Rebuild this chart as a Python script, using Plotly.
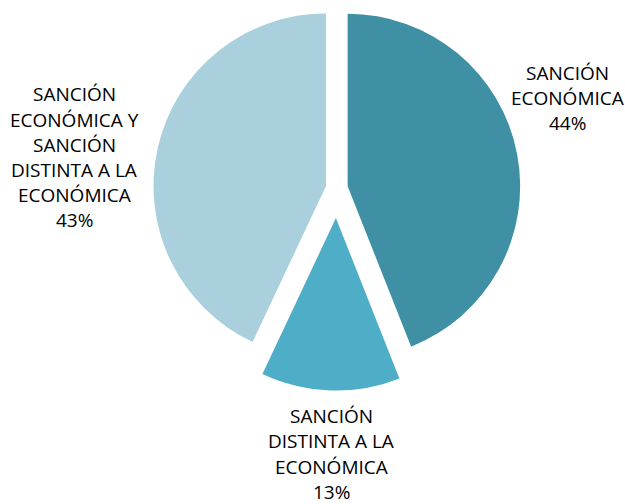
import plotly.graph_objects as go

# ---- data ----
CATEGORIES = [
    "SANCIÓN ECONÓMICA",
    "SANCIÓN DISTINTA A LA ECONÓMICA",
    "SANCIÓN ECONÓMICA Y SANCIÓN DISTINTA A LA ECONÓMICA",
]
VALUES = [44, 13, 43]
LABEL_LINES = [
    ["SANCIÓN", "ECONÓMICA"],
    ["SANCIÓN", "DISTINTA A LA", "ECONÓMICA"],
    ["SANCIÓN", "ECONÓMICA Y", "SANCIÓN", "DISTINTA A LA", "ECONÓMICA"],
]
COLORS = ["#3F90A4", "#4EADC7", "#AACFDD"]

# ---- layout helpers (pixels of the 625x504 page) ----
W, H = 625, 504
TRANSPARENT = "rgba(0,0,0,0)"

def px_x(x):
    return x / W

def px_y(y):
    return 1 - y / H

fig = go.Figure()

# trace with the two large slices (slight explosion)
fig.add_trace(go.Pie(
    labels=CATEGORIES, values=VALUES, sort=False, direction="clockwise",
    rotation=0, textinfo="none", hoverinfo="label+percent",
    pull=[0.064, 0, 0.064],
    marker=dict(colors=[COLORS[0], TRANSPARENT, COLORS[2]], line=dict(width=0)),
    domain=dict(x=[px_x(153.25), px_x(520.35)], y=[px_y(371.85), px_y(4.75)]),
    showlegend=False,
))

# trace with the small, more exploded slice
fig.add_trace(go.Pie(
    labels=CATEGORIES, values=VALUES, sort=False, direction="clockwise",
    rotation=0, textinfo="none", hoverinfo="label+percent",
    marker=dict(colors=[TRANSPARENT, COLORS[1], TRANSPARENT], line=dict(width=0)),
    domain=dict(x=[px_x(163.4), px_x(508.4)], y=[px_y(390.5), px_y(45.5)]),
    showlegend=False,
))

# ---- labels ----
LABEL_POS = [(567, 80), (331, 423.5), (74, 101.7)]  # centre x, first baseline
LINE_STEP = 25.2
total = sum(VALUES)
annotations = []
for lines, v, (cx, by) in zip(LABEL_LINES, VALUES, LABEL_POS):
    all_lines = lines + [f"{round(100 * v / total)}%"]
    for i, t in enumerate(all_lines):
        base = by + i * LINE_STEP
        annotations.append(dict(
            text=t, x=px_x(cx), y=px_y(base - 7.4), xref="paper", yref="paper",
            xanchor="center", yanchor="middle", showarrow=False,
            font=dict(family="Open Sans", size=19, color="#000000"),
        ))

fig.update_layout(
    width=W, height=H,
    margin=dict(l=0, r=0, t=0, b=0),
    paper_bgcolor="white", plot_bgcolor="white",
    annotations=annotations,
)

fig.write_html(
    "out.html",
    config={"displayModeBar": False},
    post_script="document.body.style.margin='0';document.body.style.overflow='hidden';",
)
